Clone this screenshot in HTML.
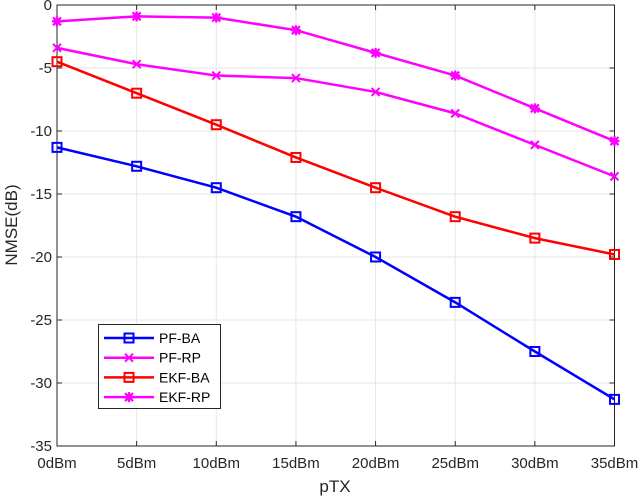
<!DOCTYPE html>
<html><head><meta charset="utf-8"><style>
body{margin:0;background:#fff}
svg{display:block;font-family:"Liberation Sans",sans-serif}
</style></head><body>
<svg id="chart" width="640" height="499">
<rect width="640" height="499" fill="#fff"/>
<g id="grid"></g>
<g id="axes"></g>
<g id="series"></g>
<text x="335" y="492" font-size="17" text-anchor="middle" fill="#262626">pTX</text>
<text transform="translate(17,225) rotate(-90)" font-size="17" text-anchor="middle" fill="#262626">NMSE(dB)</text>
<g id="legend"></g>
</svg>
<script>
const categories=["0dBm","5dBm","10dBm","15dBm","20dBm","25dBm","30dBm","35dBm"];
const yTicks=[0,-5,-10,-15,-20,-25,-30,-35];
const pfBA=[-11.3,-12.8,-14.5,-16.8,-20.0,-23.6,-27.5,-31.3];
const pfRP=[-3.4,-4.7,-5.6,-5.8,-6.9,-8.6,-11.1,-13.6];
const ekfBA=[-4.5,-7.0,-9.5,-12.1,-14.5,-16.8,-18.5,-19.8];
const ekfRP=[-1.3,-0.9,-1.0,-2.0,-3.8,-5.6,-8.2,-10.8];
const seriesNames=["PF-BA","PF-RP","EKF-BA","EKF-RP"];

const NS="http://www.w3.org/2000/svg";
const L=57,R=614.5,T=5,B=446;
const X=i=>L+(R-L)*i/(categories.length-1);
const Y=v=>T+(B-T)*(0-v)/35;
function mk(tag,attrs,parent){const e=document.createElementNS(NS,tag);for(const k in attrs)e.setAttribute(k,attrs[k]);parent.appendChild(e);return e;}
const grid=document.getElementById('grid'),axes=document.getElementById('axes'),ser=document.getElementById('series'),leg=document.getElementById('legend');
categories.forEach((c,i)=>{
  const g=mk('line',{x1:X(i),x2:X(i),y1:T,y2:B,stroke:'#e6e6e6','stroke-width':1},grid);
  
  
  mk('line',{x1:X(i),x2:X(i),y1:B,y2:B-5,stroke:'#262626'},axes);
  mk('line',{x1:X(i),x2:X(i),y1:T,y2:T+5,stroke:'#262626'},axes);
  const t=mk('text',{x:X(i),y:B+22,'font-size':15,'text-anchor':'middle',fill:'#262626'},axes);
  t.textContent=c;
  
  
});
yTicks.forEach(v=>{
  const g=mk('line',{x1:L,x2:R,y1:Y(v),y2:Y(v),stroke:'#e6e6e6','stroke-width':1},grid);
  
  
  mk('line',{x1:L,x2:L+5,y1:Y(v),y2:Y(v),stroke:'#262626'},axes);
  mk('line',{x1:R,x2:R-5,y1:Y(v),y2:Y(v),stroke:'#262626'},axes);
  const t=mk('text',{x:L-5,y:Y(v)+5,'font-size':15,'text-anchor':'end',fill:'#262626'},axes);
  t.textContent=v;
  
  
});
mk('rect',{x:L,y:T,width:R-L,height:B-T,fill:'none',stroke:'#262626','stroke-width':1},axes);

function marker(type,x,y,col,p){
  if(type==='sq')mk('rect',{x:x-4.5,y:y-4.5,width:9,height:9,fill:'none',stroke:col,'stroke-width':2},p);
  else if(type==='x'){mk('path',{d:`M${x-4},${y-4}L${x+4},${y+4}M${x-4},${y+4}L${x+4},${y-4}`,stroke:col,'stroke-width':2},p);}
  else {mk('path',{d:`M${x-5},${y}L${x+5},${y}M${x},${y-5}L${x},${y+5}M${x-4},${y-4}L${x+4},${y+4}M${x-4},${y+4}L${x+4},${y-4}`,stroke:col,'stroke-width':2.2},p);mk('circle',{cx:x,cy:y,r:3.5,fill:col},p);}
}
const defs=[[pfBA,'#0000ff','sq','series-pf-ba'],[pfRP,'#ff00ff','x','series-pf-rp'],[ekfBA,'#ff0000','sq','series-ekf-ba'],[ekfRP,'#ff00ff','star','series-ekf-rp']];
defs.forEach(([d,col,m,name])=>{
  const g=mk('g',{},ser);
  
  
  mk('polyline',{points:d.map((v,i)=>X(i)+','+Y(v)).join(' '),fill:'none',stroke:col,'stroke-width':2.5},g);
  d.forEach((v,i)=>marker(m,X(i),Y(v),col,g));
});
mk('rect',{x:98.5,y:324.5,width:122,height:84,fill:'#fff',stroke:'#262626','stroke-width':1},leg);
defs.forEach(([d,col,m],k)=>{
  const y=338+k*19.7;
  const g=mk('g',{},leg);
  
  
  mk('line',{x1:104,x2:154,y1:y,y2:y,stroke:col,'stroke-width':2.5},g);
  marker(m,129,y,col,g);
  const t=mk('text',{x:159,y:y+5,'font-size':14,fill:'#000'},g);
  t.textContent=seriesNames[k];
});
</script>
</body></html>
